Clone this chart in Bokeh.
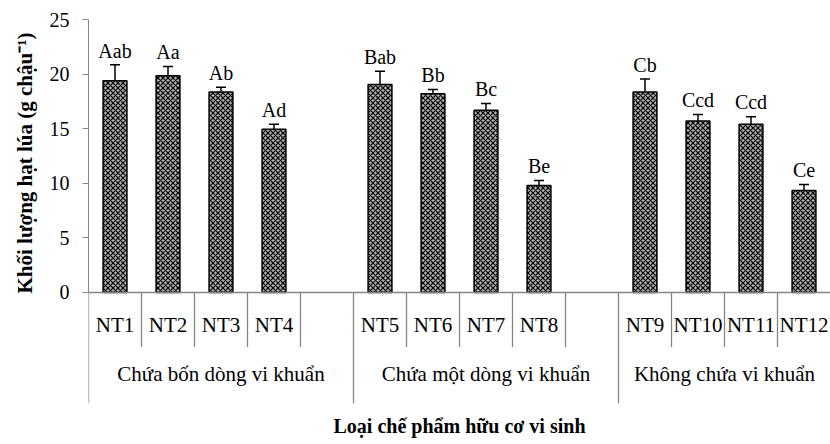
from bokeh.plotting import figure
from bokeh.models import Range1d, FixedTicker, ColumnDataSource, Whisker, TeeHead, Span, Label, Title
from bokeh.core.properties import value
from bokeh.embed import file_html
from bokeh.resources import INLINE

# ---------------- data ----------------
groups = ["Chứa bốn dòng vi khuẩn", "Chứa một dòng vi khuẩn", "Không chứa vi khuẩn"]
treatments = ["NT1", "NT2", "NT3", "NT4", "NT5", "NT6", "NT7", "NT8",
              "NT9", "NT10", "NT11", "NT12"]
group_of = [0, 0, 0, 0, 1, 1, 1, 1, 2, 2, 2, 2]
yields = [19.4, 19.85, 18.35, 14.95, 19.05, 18.2, 16.7, 9.8, 18.35, 15.7, 15.4, 9.35]
errors = [1.45, 0.85, 0.45, 0.45, 1.2, 0.4, 0.6, 0.45, 1.2, 0.6, 0.7, 0.55]
letters = ["Aab", "Aa", "Ab", "Ad", "Bab", "Bb", "Bc", "Be", "Cb", "Ccd", "Ccd", "Ce"]
y_ticks = [0, 5, 10, 15, 20, 25]
y_title = "Khối lượng hạt lúa (g chậu⁻¹)"
x_title = "Loại chế phẩm hữu cơ vi sinh"

# ---------------- slot layout (4 bars + 1 empty slot per group, last group without) ----
FONT = "Liberation Serif"
GRAY = "#868686"
group_size = [group_of.count(g) for g in range(len(groups))]
group_start = []
s = 0
for g, n in enumerate(group_size):
    group_start.append(s)
    s += n + (1 if g < len(groups) - 1 else 0)
n_slots = s
xs = []
idx_in_group = {}
for i, g in enumerate(group_of):
    k = idx_in_group.get(g, 0)
    xs.append(group_start[g] + k + 0.5)
    idx_in_group[g] = k + 1
group_end = [group_start[g] + group_size[g] + (1 if g < len(groups) - 1 else 0)
             for g in range(len(groups))]

upper = [v + e for v, e in zip(yields, errors)]
src = ColumnDataSource(dict(
    x=xs, top=yields, upper=upper,
    lower=[v - e for v, e in zip(yields, errors)],
    label_y=[u + 1.3 for u in upper],
    letter=letters, name=treatments))

p = figure(width=830, height=444, x_range=Range1d(0, n_slots), y_range=Range1d(-13.92, 25),
           output_backend="svg", toolbar_location=None,
           min_border_left=87, min_border_right=0, min_border_top=19, min_border_bottom=0)
p.outline_line_color = None
p.xgrid.visible = False
p.ygrid.visible = False
p.xaxis.visible = False

yax = p.yaxis[0]
yax.bounds = (0, 25)
yax.ticker = FixedTicker(ticks=y_ticks)
yax.minor_tick_line_color = None
yax.major_tick_in = 0
yax.major_tick_out = 6
yax.axis_line_color = GRAY
yax.major_tick_line_color = GRAY
yax.major_label_text_font = FONT
yax.major_label_text_font_size = "20px"
yax.major_label_text_color = "black"
yax.major_label_standoff = 13

# y title, starting at the value-0 level of the axis
p.add_layout(Title(text=y_title, align="left", offset=151, standoff=20,
                   text_font=FONT, text_font_size="21px", text_font_style="bold",
                   text_color="black"), "left")

# bars
p.vbar(x="x", top="top", bottom=0, width=0.45, source=src,
       fill_color="#b0b0b0", line_color="black", line_width=1.5,
       hatch_pattern="diagonal_cross", hatch_color="black", hatch_scale=5, hatch_weight=1.2)

# error bars
p.add_layout(Whisker(source=src, base="x", upper="upper", lower="lower",
                     line_color="black", line_width=1.5,
                     upper_head=TeeHead(size=10, line_color="black", line_width=1.5),
                     lower_head=TeeHead(size=10, line_color="black", line_width=1.5)))

# significance letters
p.text(x="x", y="label_y", text="letter", source=src, text_align="center",
       text_baseline="middle", text_font=value(FONT),
       text_font_size="20px", text_color="black")

# x axis line
p.add_layout(Span(location=0, dimension="width", line_color=GRAY, line_width=1.5))

# category table separators
short_x, long_x = [], []
for g in range(len(groups)):
    long_x.append(group_start[g])
    for b in range(group_start[g] + 1, group_end[g]):
        short_x.append(b)
p.segment(x0=short_x, y0=[0] * len(short_x), x1=short_x, y1=[-5.0] * len(short_x),
          line_color=GRAY, line_width=1.3)
p.segment(x0=long_x, y0=[0] * len(long_x), x1=long_x, y1=[-10.15] * len(long_x),
          line_color=GRAY, line_width=1.3)

# treatment labels
p.text(x="x", y=-3.0, text="name", source=src, text_align="center", text_baseline="middle",
       text_font=value(FONT), text_font_size="21px", text_color="black")

# group labels
gx = [(group_start[g] + group_end[g]) / 2 for g in range(len(groups))]
p.text(x=gx, y=[-7.5] * len(gx), text=groups, text_align="center", text_baseline="middle",
       text_font=value(FONT), text_font_size="21px", text_color="black")

# x title
p.add_layout(Label(x=n_slots / 2, y=-12.2, text=x_title, text_align="center",
                   text_baseline="middle", text_font=FONT, text_font_size="20px",
                   text_font_style="bold", text_color="black"))

open("out.html", "w").write(file_html(p, INLINE))
